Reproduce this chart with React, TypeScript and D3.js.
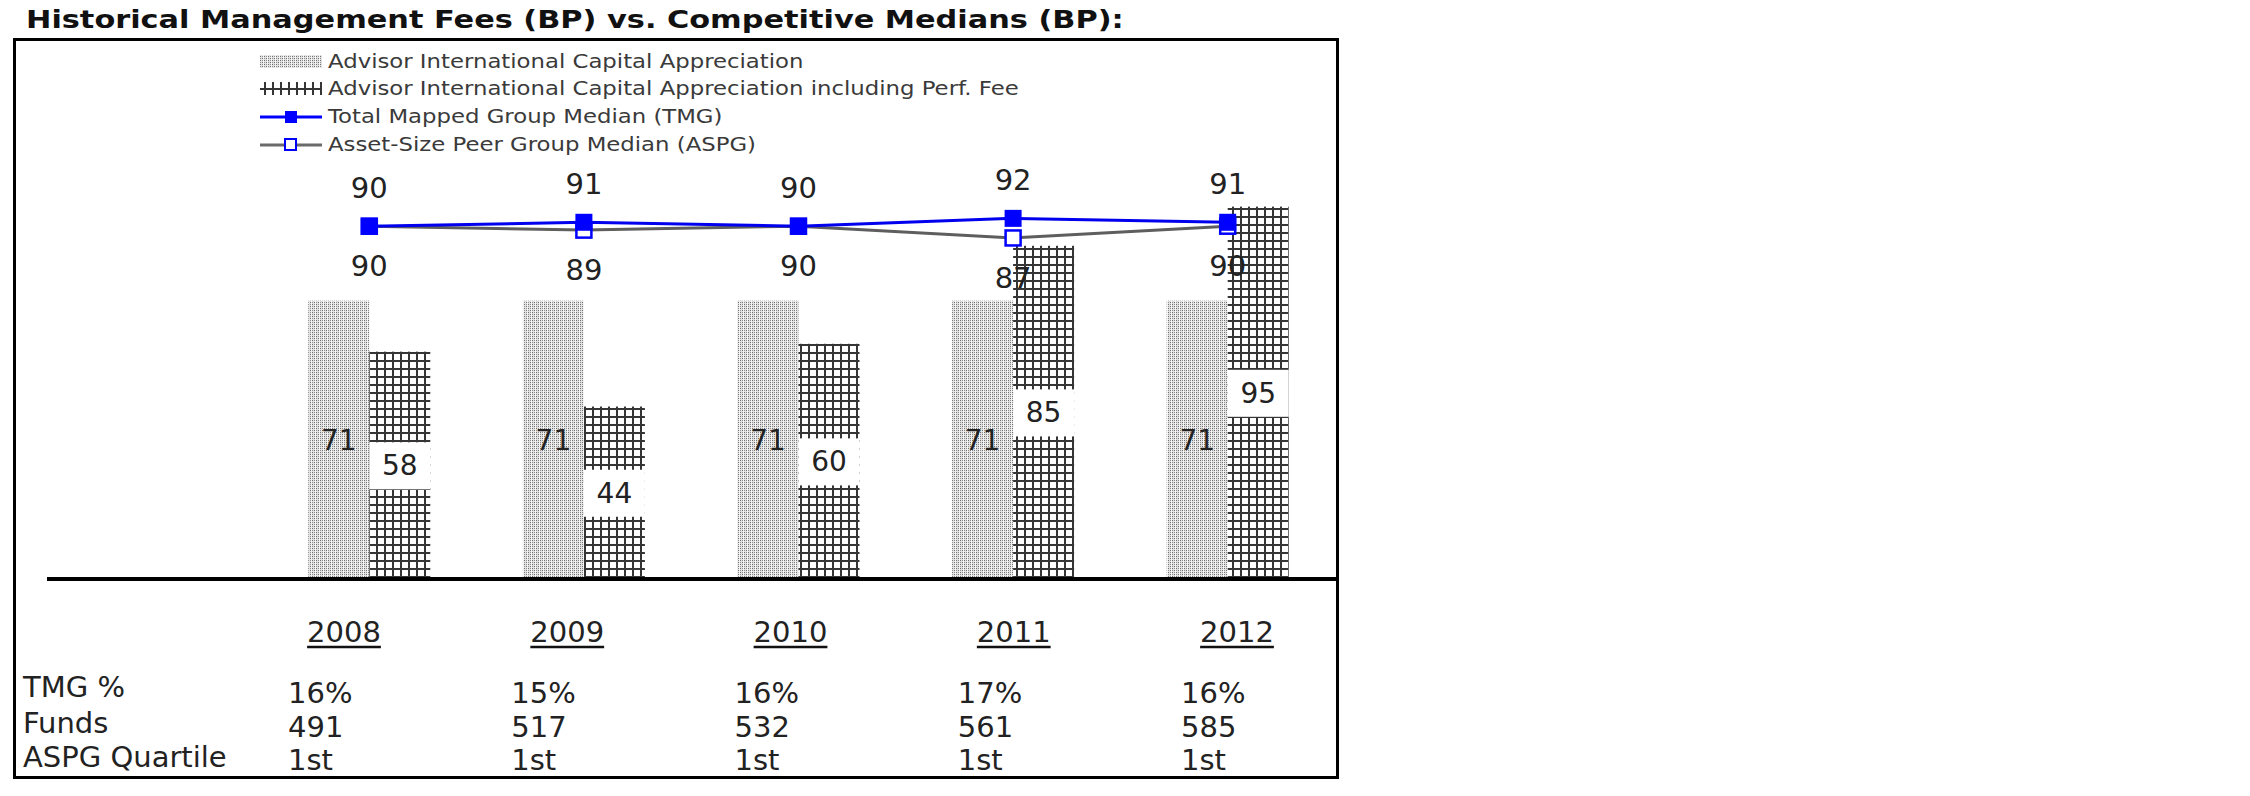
import React from "react";
import * as d3 from "d3";

const years = ["2008", "2009", "2010", "2011", "2012"];
const advisorFees = [71, 71, 71, 71, 71];
const advisorPerfFees = [58, 44, 60, 85, 95];
const tmgMedian = [90, 91, 90, 92, 91];
const aspgMedian = [90, 89, 90, 87, 90];
const tmgPct = ["16%", "15%", "16%", "17%", "16%"];
const fundCounts = ["491", "517", "532", "561", "585"];
const aspgQuartile = ["1st", "1st", "1st", "1st", "1st"];
const rowLabels = ["TMG %", "Funds", "ASPG Quartile"];
const legendLabels = [
  "Advisor International Capital Appreciation",
  "Advisor International Capital Appreciation including Perf. Fee",
  "Total Mapped Group Median (TMG)",
  "Asset-Size Peer Group Median (ASPG)",
];
const title = "Historical Management Fees (BP) vs. Competitive Medians (BP):";

const W = 2250;
const H = 796;
const FONT = "'DejaVu Sans', Verdana, sans-serif";

export default function App() {
  const x = d3.scaleBand<string>().domain(years).range([262, 1335]).padding(0);
  const y = d3.scaleLinear().domain([0, 100]).range([579, 187]);
  const colX = d3.scalePoint<string>().domain(years).range([344, 1237]);
  const barW = 61;
  const cx = (yr: string) => (x(yr) as number) + x.bandwidth() / 2;

  const line = d3
    .line<number>()
    .x((_, i) => cx(years[i]))
    .y((v) => y(v));

  const tableRows = [tmgPct, fundCounts, aspgQuartile];
  const labelBaselines = [697, 733, 767];
  const valueBaselines = [703, 737, 770];
  const legendBaselines = [68, 95, 123, 151];
  const yearFs = 29;

  return (
    <svg
      width={W}
      height={H}
      style={{ position: "absolute", left: 0, top: 0, background: "#fff" }}
      fontFamily={FONT}
    >
      <defs>
        <pattern id="lightPat" patternUnits="userSpaceOnUse" width={4} height={4}>
          <rect width={4} height={4} fill="#e2e2e2" />
          <rect x={0} y={0} width={1} height={1} fill="#6e6e6e" />
          <rect x={2} y={2} width={1} height={1} fill="#6e6e6e" />
          <rect x={2} y={0} width={1} height={1} fill="#8e8e8e" />
          <rect x={0} y={2} width={1} height={1} fill="#8e8e8e" />
          <rect x={3} y={0} width={1} height={4} fill="#f4f4f4" />
        </pattern>
        <pattern id="darkPat" patternUnits="userSpaceOnUse" width={8} height={8}>
          <rect width={8} height={8} fill="#ffffff" />
          <rect x={0} y={0} width={2} height={8} fill="#353535" />
          <rect x={0} y={0} width={8} height={2} fill="#353535" />
        </pattern>
      </defs>

      <rect width={W} height={H} fill="#fff" />

      {/* Title */}
      <g transform="translate(26,28) scale(1.215,1)">
        <text x={0} y={0} fontSize={25} fontWeight="bold" fill="#111">
          {title}
        </text>
      </g>

      {/* Frame */}
      <rect x={14.5} y={39.5} width={1323} height={738} fill="none" stroke="#000" strokeWidth={3} />

      {/* Legend */}
      <g>
        <rect x={260} y={legendBaselines[0] - 13} width={62} height={13} fill="url(#lightPat)" />
        <rect x={260} y={legendBaselines[1] - 13} width={62} height={13} fill="url(#darkPat)" />
        <line x1={260} x2={322} y1={legendBaselines[2] - 6} y2={legendBaselines[2] - 6} stroke="#0000ff" strokeWidth={3} />
        <rect x={285} y={legendBaselines[2] - 12} width={12} height={12} fill="#0000ff" />
        <line x1={260} x2={322} y1={legendBaselines[3] - 6} y2={legendBaselines[3] - 6} stroke="#6a6a6a" strokeWidth={3} />
        <rect x={285} y={legendBaselines[3] - 12} width={11} height={11} fill="#fff" stroke="#0000ff" strokeWidth={2} />
        <g transform="translate(328,0) scale(1.2,1)" fontSize={19} fill="#3a3a3a">
          {legendLabels.map((l, i) => (
            <text key={l} x={0} y={legendBaselines[i]}>
              {l}
            </text>
          ))}
        </g>
      </g>

      {/* Bars */}
      {years.map((yr, i) => (
        <g key={"b" + yr}>
          <rect
            x={cx(yr) - barW}
            y={y(advisorFees[i])}
            width={barW}
            height={y(0) - y(advisorFees[i])}
            fill="url(#lightPat)"
          />
          <rect
            x={cx(yr)}
            y={y(advisorPerfFees[i])}
            width={barW}
            height={y(0) - y(advisorPerfFees[i])}
            fill="url(#darkPat)"
          />
        </g>
      ))}

      {/* Bar labels */}
      {years.map((yr, i) => {
        const midA = (y(advisorFees[i]) + y(0)) / 2;
        const midB = (y(advisorPerfFees[i]) + y(0)) / 2;
        return (
          <g key={"bl" + yr} fontSize={28} fill="#222" textAnchor="middle">
            <text x={cx(yr) - barW / 2} y={midA + 10}>
              {advisorFees[i]}
            </text>
            <rect x={cx(yr)} y={midB - 23} width={barW} height={47} fill="#fff" />
            <text x={cx(yr) + barW / 2} y={midB + 10}>
              {advisorPerfFees[i]}
            </text>
          </g>
        );
      })}

      {/* Axis baseline */}
      <line x1={47} x2={1336} y1={y(0)} y2={y(0)} stroke="#000" strokeWidth={4} />

      {/* ASPG line */}
      <path d={line(aspgMedian) || ""} fill="none" stroke="#5e5e5e" strokeWidth={3} />
      {years.map((yr, i) => (
        <rect
          key={"am" + yr}
          x={cx(yr) - 7.5}
          y={y(aspgMedian[i]) - 7.5}
          width={15}
          height={15}
          fill="#fff"
          stroke="#0000ff"
          strokeWidth={2.5}
        />
      ))}

      {/* TMG line */}
      <path d={line(tmgMedian) || ""} fill="none" stroke="#0000ee" strokeWidth={3} />
      {years.map((yr, i) => (
        <rect
          key={"tm" + yr}
          x={cx(yr) - 8.5}
          y={y(tmgMedian[i]) - 8.5}
          width={17}
          height={17}
          fill="#0000ff"
        />
      ))}

      {/* Line labels */}
      <g fontSize={29} fill="#222" textAnchor="middle">
        {years.map((yr, i) => (
          <text key={"tl" + yr} x={cx(yr)} y={y(tmgMedian[i]) - 28}>
            {tmgMedian[i]}
          </text>
        ))}
        {years.map((yr, i) => (
          <text key={"al" + yr} x={cx(yr)} y={y(aspgMedian[i]) + 50}>
            {aspgMedian[i]}
          </text>
        ))}
      </g>

      {/* Year headers */}
      <g fontSize={yearFs} fill="#222">
        {years.map((yr) => {
          const w = yr.length * 0.636 * yearFs;
          const c = colX(yr) as number;
          return (
            <g key={"y" + yr}>
              <text x={c} y={642} textAnchor="middle">
                {yr}
              </text>
              <line x1={c - w / 2} x2={c + w / 2} y1={647} y2={647} stroke="#111" strokeWidth={2.5} />
            </g>
          );
        })}
      </g>

      {/* Table */}
      <g fontSize={29} fill="#222">
        {rowLabels.map((l, r) => (
          <text key={l} x={23} y={labelBaselines[r]}>
            {l}
          </text>
        ))}
        {tableRows.map((row, r) =>
          row.map((v, i) => (
            <text key={r + "-" + i} x={(colX(years[i]) as number) - 56} y={valueBaselines[r]}>
              {v}
            </text>
          ))
        )}
      </g>
    </svg>
  );
}
